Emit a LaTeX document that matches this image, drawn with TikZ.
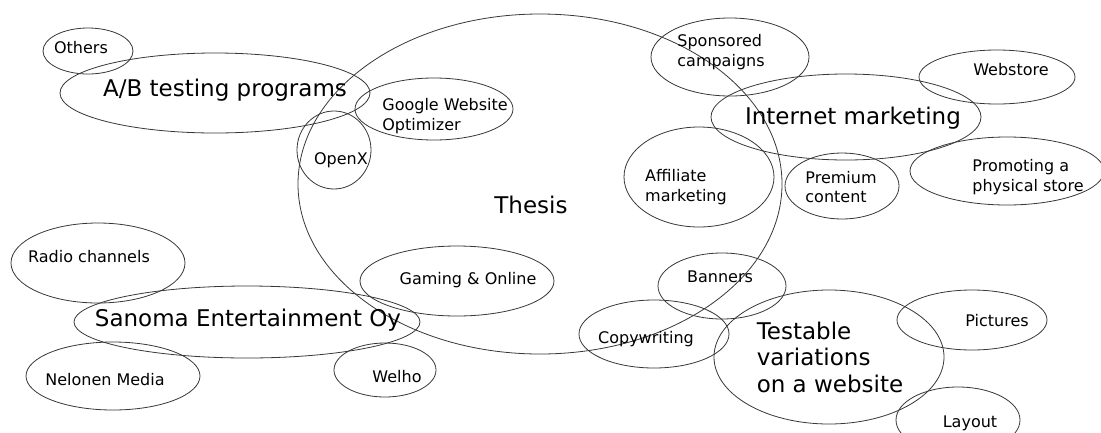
\documentclass[tikz,border=0pt]{standalone}
\usepackage{fontspec}
\setmainfont{DejaVu Sans}
\usepackage{tikz}
\usetikzlibrary{shapes.geometric}
\definecolor{myline}{RGB}{55,55,55}
\tikzset{
  bubble/.style 2 args={ellipse, draw=myline, line width=0.8pt,
    minimum width=#1, minimum height=#2, inner sep=0pt},
  lbl/.style={align=left, inner sep=0pt, font=\fontsize{16}{19.5}\selectfont},
  biglbl/.style={align=left, inner sep=0pt, font=\fontsize{23}{26.5}\selectfont}
}

\begin{document}
\begin{tikzpicture}[x=1pt, y=-1pt]
  \useasboundingbox (0,0) rectangle (1101,432);

  % Thesis (big ellipse)
  \node[bubble={484pt}{340pt}] (thesis) at (540,184) {};
  \node[biglbl] (thesist) at (531,205) {Thesis};

  % A/B testing programs
  \node[bubble={310pt}{80pt}] (ab) at (215,93) {};
  \node[biglbl] (abt) at (225,90) {A/B testing programs};
  \node[bubble={90pt}{46pt}] (others) at (88,51) {};
  \node[lbl] (otherst) at (81,48) {Others};
  \node[bubble={74pt}{78pt}] (openx) at (334,150) {};
  \node[lbl] (openxt) at (341,160) {OpenX};
  \node[bubble={158pt}{62pt}] (gwo) at (434,109) {};
  \node[lbl] (gwot) at (445,116) {Google Website\\Optimizer};

  % Internet marketing
  \node[bubble={270pt}{86pt}] (inet) at (846,117) {};
  \node[biglbl] (inett) at (853,118) {Internet marketing};
  \node[bubble={158pt}{78pt}] (spons) at (730,57) {};
  \node[lbl] (sponst) at (721,52) {Sponsored\\campaigns};
  \node[bubble={156pt}{54pt}] (web) at (997,77) {};
  \node[lbl] (webt) at (1011,70) {Webstore};
  \node[bubble={150pt}{100pt}] (aff) at (699,177) {};
  \node[lbl] (afft) at (686,187) {Affiliate\\marketing};
  \node[bubble={114pt}{66pt}] (prem) at (842,186) {};
  \node[lbl] (premt) at (841,187) {Premium\\content};
  \node[bubble={194pt}{68pt}] (store) at (1007,171) {};
  \node[lbl] (storet) at (1028,177) {Promoting a\\physical store};

  % Sanoma Entertainment Oy
  \node[bubble={346pt}{72pt}] (sanoma) at (247,322) {};
  \node[biglbl] (sanomat) at (248,320) {Sanoma Entertainment Oy};
  \node[bubble={174pt}{80pt}] (radio) at (98,263) {};
  \node[lbl] (radiot) at (89,257) {Radio channels};
  \node[bubble={174pt}{68pt}] (nelonen) at (113,376) {};
  \node[lbl] (nelonent) at (105,380) {Nelonen Media};
  \node[bubble={102pt}{54pt}] (welho) at (385,370) {};
  \node[lbl] (welhot) at (397,377) {Welho};
  \node[bubble={194pt}{70pt}] (gaming) at (457,281) {};
  \node[lbl] (gamingt) at (468,280) {Gaming \& Online};

  % Testable variations on a website
  \node[bubble={230pt}{134pt}] (test) at (829,357) {};
  \node[biglbl] (testt) at (830,357) {Testable\\variations\\on a website};
  \node[bubble={128pt}{66pt}] (banners) at (722,286) {};
  \node[lbl] (bannerst) at (720,277) {Banners};
  \node[bubble={150pt}{68pt}] (copy) at (654,334) {};
  \node[lbl] (copyt) at (646,339) {Copywriting};
  \node[bubble={150pt}{60pt}] (pics) at (972,320) {};
  \node[lbl] (picst) at (997,321) {Pictures};
  \node[bubble={124pt}{66pt}] (layout) at (958,420) {};
  \node[lbl] (layoutt) at (970,423) {Layout};

\end{tikzpicture}
\end{document}
